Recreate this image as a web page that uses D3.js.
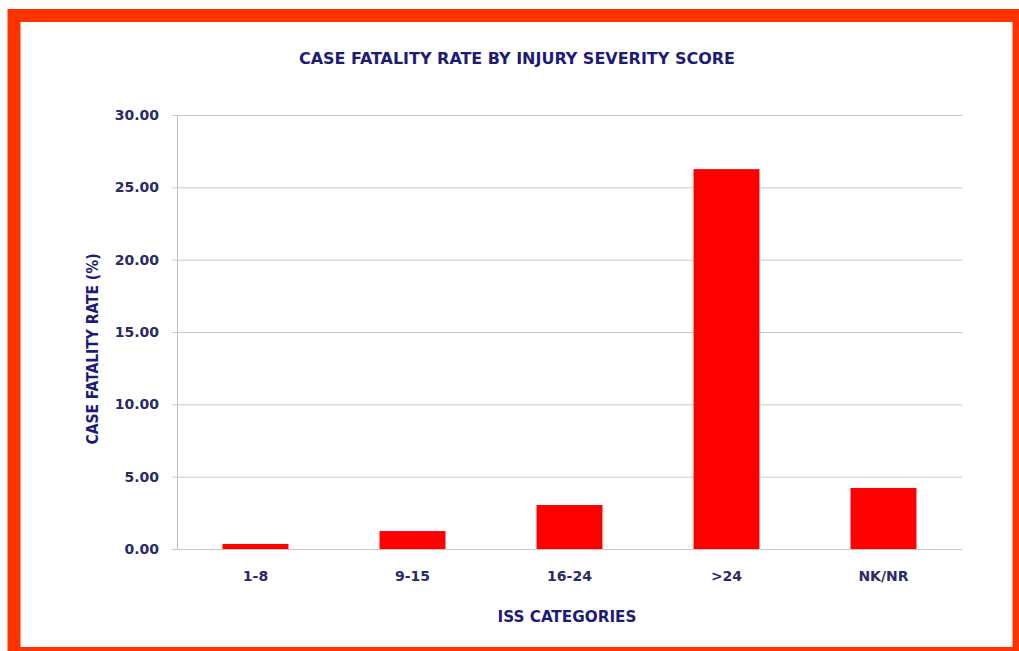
<!DOCTYPE html>
<html>
<head>
<meta charset="utf-8">
<script src="https://cdn.jsdelivr.net/npm/d3@7"></script>
<style>
  body { margin: 0; background: #fff; }
  svg { display: block; }
  .tick text { font-family: "DejaVu Sans", Verdana, sans-serif; }
</style>
</head>
<body>
<div id="chart"></div>
<script>
// values
var categories = ["1-8", "9-15", "16-24", ">24", "NK/NR"];
var rates = [0.35, 1.24, 3.04, 26.26, 4.22];
var yTicks = [0, 5, 10, 15, 20, 25, 30];

var width = 1019, height = 651;
var margin = {top: 115, right: 57, bottom: 102, left: 177};

var navy = "#1c1c78";

var svg = d3.select("#chart").append("svg")
    .attr("width", width)
    .attr("height", height);

// red frame
svg.append("rect")
    .attr("x", 14).attr("y", 15.5)
    .attr("width", 1005).attr("height", 638)
    .attr("fill", "none")
    .attr("stroke", "#ff3300")
    .attr("stroke-width", 13);

var x = d3.scaleBand()
    .domain(categories)
    .range([margin.left, width - margin.right])
    .paddingInner(0.58)
    .paddingOuter(0.29);

var y = d3.scaleLinear()
    .domain([0, 30])
    .range([height - margin.bottom, margin.top]);

// grid + y axis
var yAxis = svg.append("g")
    .attr("transform", "translate(" + margin.left + ",0)")
    .call(d3.axisLeft(y)
      .tickValues(yTicks)
      .tickSize(-(width - margin.right - margin.left))
      .tickSizeOuter(0)
      .tickPadding(18)
      .tickFormat(d3.format(".2f")));

yAxis.select(".domain").attr("stroke", "#bdbdbd");
yAxis.selectAll(".tick line")
    .attr("stroke", "#c8c8c8")
    .attr("x1", -5);
yAxis.selectAll(".tick text")
    .attr("fill", "#2a2a6a")
    .attr("font-size", 14)
    .attr("font-weight", "bold");

// bars
svg.append("g").selectAll("rect")
    .data(rates)
    .join("rect")
    .attr("x", function(d, i) { return x(categories[i]); })
    .attr("y", function(d) { return y(d); })
    .attr("width", x.bandwidth())
    .attr("height", function(d) { return y(0) - y(d); })
    .attr("fill", "#ff0000");

// x axis labels
var xAxis = svg.append("g")
    .attr("transform", "translate(0," + (height - margin.bottom) + ")")
    .call(d3.axisBottom(x).tickSize(0).tickPadding(22));
xAxis.select(".domain").remove();
xAxis.selectAll(".tick text")
    .attr("fill", "#2a2a6a")
    .attr("font-size", 14)
    .attr("font-weight", "bold");

// titles
svg.append("text")
    .attr("x", 517).attr("y", 64)
    .attr("text-anchor", "middle")
    .attr("font-family", "DejaVu Sans Condensed, DejaVu Sans, sans-serif")
    .attr("font-weight", "bold")
    .attr("font-size", 16)
    .attr("textLength", 436)
    .attr("lengthAdjust", "spacingAndGlyphs")
    .attr("fill", navy)
    .text("CASE FATALITY RATE BY INJURY SEVERITY SCORE");

svg.append("text")
    .attr("x", 567).attr("y", 622)
    .attr("text-anchor", "middle")
    .attr("font-family", "DejaVu Sans Condensed, DejaVu Sans, sans-serif")
    .attr("font-weight", "bold")
    .attr("font-size", 16)
    .attr("textLength", 139)
    .attr("lengthAdjust", "spacingAndGlyphs")
    .attr("fill", navy)
    .text("ISS CATEGORIES");

svg.append("text")
    .attr("transform", "translate(98,349) rotate(-90)")
    .attr("text-anchor", "middle")
    .attr("font-family", "DejaVu Sans Condensed, DejaVu Sans, sans-serif")
    .attr("font-weight", "bold")
    .attr("font-size", 16)
    .attr("textLength", 191)
    .attr("lengthAdjust", "spacingAndGlyphs")
    .attr("fill", navy)
    .text("CASE FATALITY RATE (%)");
</script>
</body>
</html>
